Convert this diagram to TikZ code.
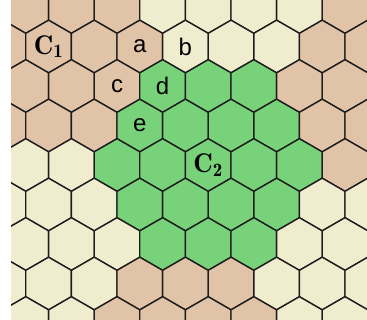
\documentclass[tikz,border=0pt]{standalone}
\usepackage{fontspec}
\setsansfont{Liberation Sans}
\usepackage{tikz}
\definecolor{hextan}{HTML}{E1C4A8}
\definecolor{hexcream}{HTML}{F0EDCF}
\definecolor{hexgreen}{HTML}{78D27A}
\definecolor{hexline}{HTML}{1C1C1C}

\begin{document}
\begin{tikzpicture}[x=1pt, y=-1pt,
  hexcell/.style={draw=hexline, line width=1.35pt, line join=miter},
  letter/.style={font=\fontsize{24}{24}\selectfont\sffamily, inner sep=0pt},
  region/.style={font=\fontsize{27}{27}\selectfont, inner sep=0pt}]
  \useasboundingbox (0,0) rectangle (367,320);
  \begin{scope}
    \clip (11,0) rectangle (367,320);
    % rows of cells: row / {column/colour, ...}
    \foreach \j/\cells in {
      0/{1/hextan,3/hextan,5/hextan,7/hexcream,9/hexcream,11/hexcream,13/hexcream,15/hextan},
      1/{0/hextan,2/hextan,4/hextan,6/hextan,8/hexcream,10/hexcream,12/hexcream,14/hextan,16/hextan},
      2/{1/hextan,3/hextan,5/hextan,7/hexgreen,9/hexgreen,11/hexgreen,13/hextan,15/hextan},
      3/{0/hextan,2/hextan,4/hextan,6/hexgreen,8/hexgreen,10/hexgreen,12/hexgreen,14/hextan,16/hextan},
      4/{1/hexcream,3/hexcream,5/hexgreen,7/hexgreen,9/hexgreen,11/hexgreen,13/hexgreen,15/hextan},
      5/{0/hexcream,2/hexcream,4/hexcream,6/hexgreen,8/hexgreen,10/hexgreen,12/hexgreen,14/hexcream,16/hexcream},
      6/{1/hexcream,3/hexcream,5/hexcream,7/hexgreen,9/hexgreen,11/hexgreen,13/hexcream,15/hexcream},
      7/{0/hexcream,2/hexcream,4/hexcream,6/hextan,8/hextan,10/hextan,12/hexcream,14/hexcream,16/hexcream},
      8/{1/hexcream,3/hexcream,5/hextan,7/hextan,9/hextan,11/hextan,13/hexcream,15/hexcream}}
      \foreach \i/\c in \cells {
        \pgfmathsetmacro\hx{3+22.8*\i}
        \pgfmathsetmacro\hy{7+39.5*\j}
        \coordinate (h\j-\i) at (\hx,\hy);
        \draw[hexcell, fill=\c] (h\j-\i) +(90:26.3) -- +(150:26.3) -- +(210:26.3)
          -- +(270:26.3) -- +(330:26.3) -- +(30:26.3) -- cycle;
      }
  \end{scope}
  \node[region] (C1) at (h1-2) {$\mathbf{C_1}$};
  \node[letter] (a) at (h1-6) {a};
  \node[letter] (b) at (h1-8) {b};
  \node[letter] (c) at (h2-5) {c};
  \node[letter] (d) at (h2-7) {d};
  \node[letter] (e) at (h3-6) {e};
  \node[region] (C2) at (h4-9) {$\mathbf{C_2}$};
\end{tikzpicture}
\end{document}
